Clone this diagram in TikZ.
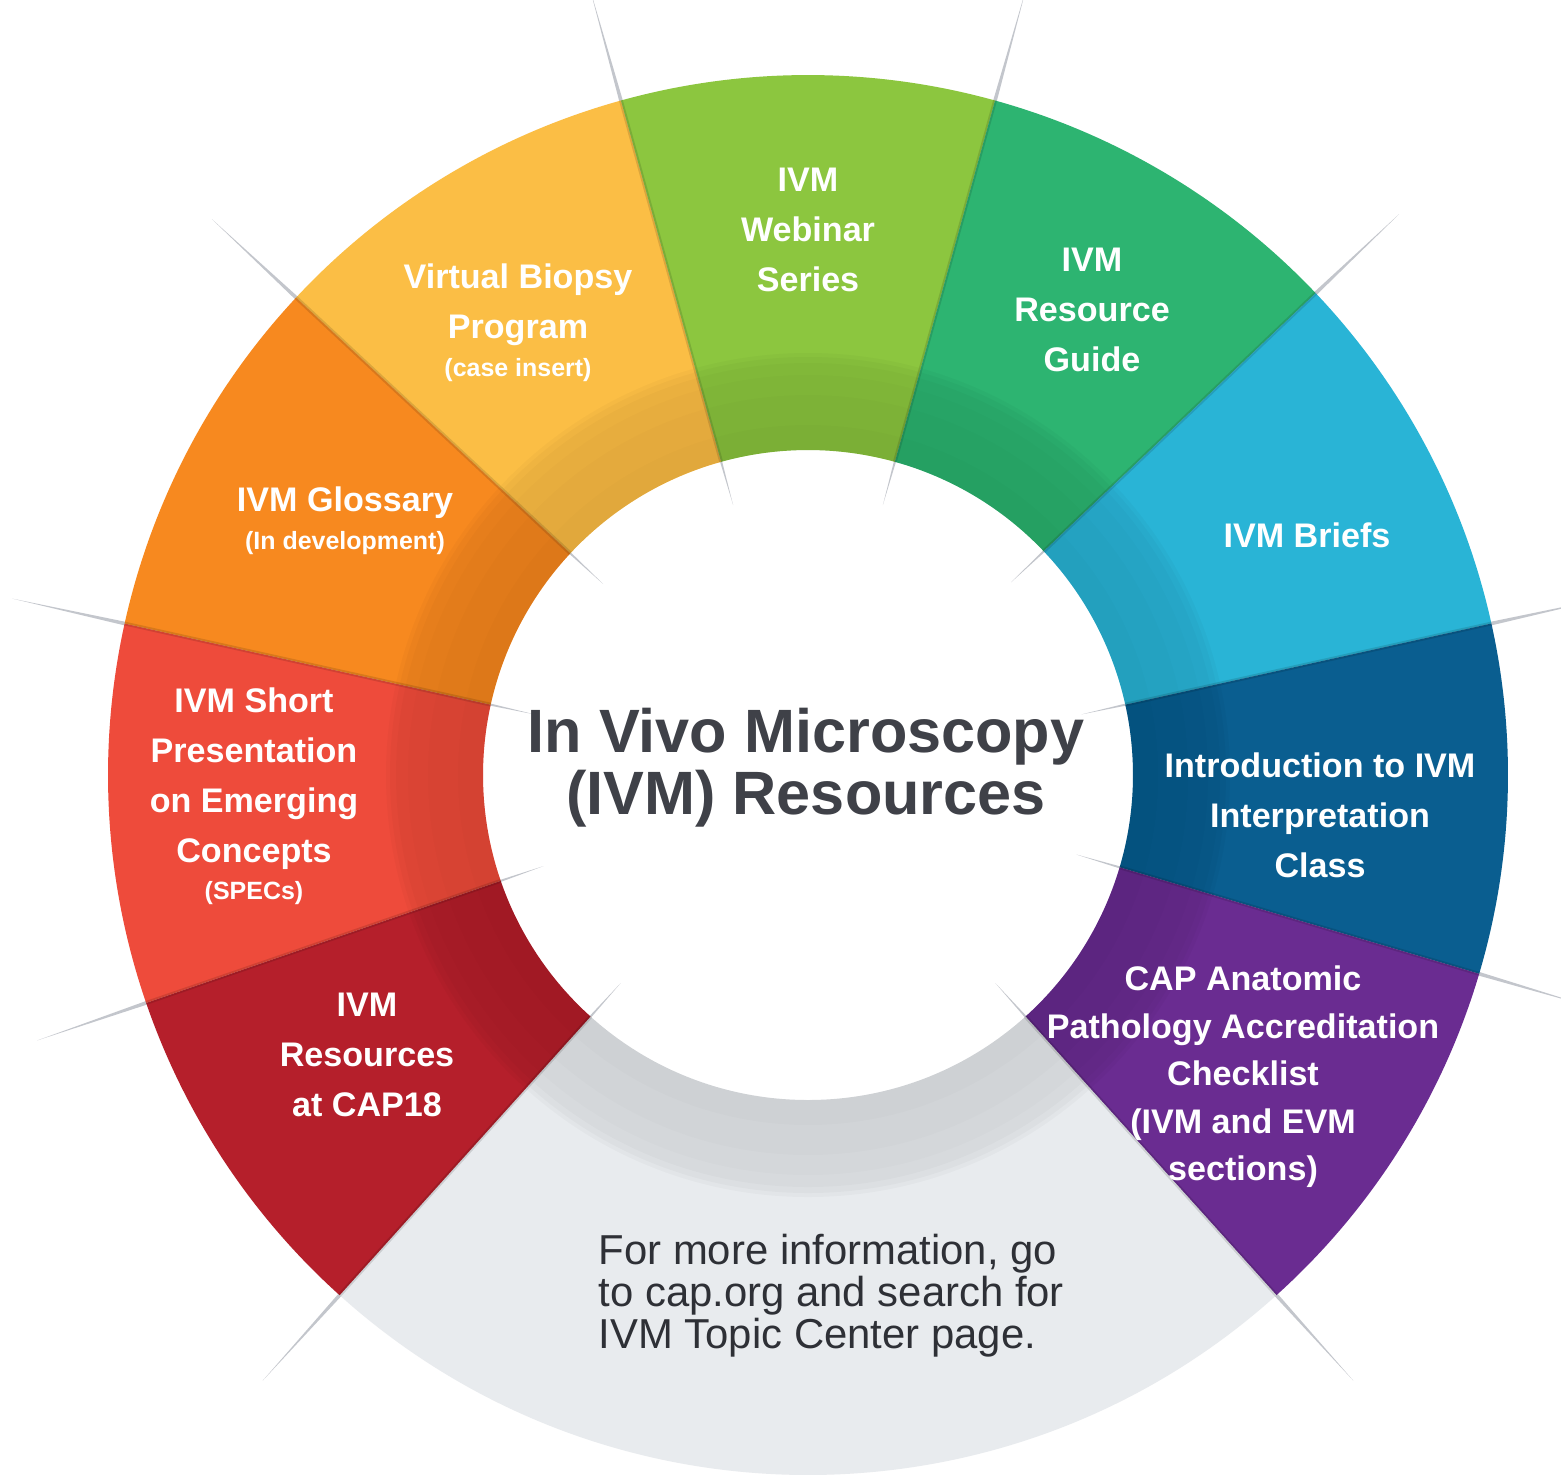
\documentclass[tikz,border=0pt]{standalone}
\usepackage{fontspec}
\setmainfont{Liberation Sans}
\definecolor{cYellow}{HTML}{FBBE45}
\definecolor{cGreen}{HTML}{8CC63F}
\definecolor{cDkGreen}{HTML}{2DB471}
\definecolor{cCyan}{HTML}{29B4D6}
\definecolor{cNavy}{HTML}{0A5E90}
\definecolor{cPurple}{HTML}{6A2C91}
\definecolor{cGrey}{HTML}{E8EBEE}
\definecolor{cRed}{HTML}{B51F2B}
\definecolor{cRedOr}{HTML}{EE4B3B}
\definecolor{cOrange}{HTML}{F7891F}
\definecolor{cRay}{HTML}{C3C6CC}
\definecolor{cTitle}{HTML}{3F4148}
\definecolor{cNote}{HTML}{2E3036}
\newcommand\ringseg[3]{%
  \fill[#3] (#1:325) -- (#1:700) arc[start angle=#1, end angle=#2, radius=700]
    -- (#2:325) arc[start angle=#2, end angle=#1, radius=325] -- cycle;}
\newcommand\ringray[1]{%
  \fill[cRay,rotate=#1] (280,0) -- (500,5) -- (815,0) -- (500,-5) -- cycle;}
\newcommand\ringedge[1]{%
  \draw[black,opacity=.12,line width=1.1pt] (#1:325) -- (#1:700);}
\newcommand\ringband[2]{%
  \fill[black,opacity=#2,even odd rule] (0,0) circle[radius=#1] (0,0) circle[radius=325];}
\begin{document}
\begin{tikzpicture}[x=0.01cm,y=0.01cm,
  lbl/.style={text=white,font=\fontsize{9.7}{14.2}\selectfont\bfseries,align=center,inner sep=0pt},
  lblcap/.style={text=white,font=\fontsize{9.7}{13.5}\selectfont\bfseries,align=center,inner sep=0pt},
  smalllbl/.style={text=white,font=\fontsize{7.1}{9}\selectfont\bfseries,align=center,inner sep=0pt},
  titlelbl/.style={text=cTitle,font=\fontsize{17.4}{17.6}\selectfont\bfseries,align=center,inner sep=0pt},
  notelbl/.style={text=cNote,font=\fontsize{11.9}{11.95}\selectfont,align=left,inner sep=0pt}]
\useasboundingbox (0,0) rectangle (1561,-1475);
\clip (0,0) rectangle (1561,-1475);
\fill[white] (0,0) rectangle (1561,-1475);
\begin{scope}[shift={(808,-775)}]
  % rays
  \foreach \a in {105.5,74.5,43.5,12.5,-16.5,-48,-132,-161,167.5,137} {\ringray{\a}}
  % segments
  \ringseg{105.5}{137}{cYellow}
  \ringseg{74.5}{105.5}{cGreen}
  \ringseg{43.5}{74.5}{cDkGreen}
  \ringseg{12.5}{43.5}{cCyan}
  \ringseg{-16.5}{12.5}{cNavy}
  \ringseg{-48}{-16.5}{cPurple}
  \ringseg{-132}{-48}{cGrey}
  \ringseg{-161}{-132}{cRed}
  \ringseg{167.5}{199}{cRedOr}
  \ringseg{137}{167.5}{cOrange}
  % inner shadow band (soft)
  \ringband{422}{.025}
  \ringband{418}{.025}
  \ringband{412}{.02}
  \ringband{400}{.012}
  \ringband{380}{.01}
  \ringband{350}{.01}
  % boundary shading
  \foreach \a in {105.5,74.5,43.5,12.5,-16.5,-48,-132,-161,167.5,137} {\ringedge{\a}}
\end{scope}
% labels
\node[lbl] (webinar) at (808,-230) {IVM\\Webinar\\Series};
\node[lbl] (guide) at (1092,-310) {IVM\\Resource\\Guide};
\node[lbl] (briefs) at (1307,-535) {IVM Briefs};
\node[lbl] (intro) at (1320,-815) {Introduction to IVM\\Interpretation\\Class};
\node[lblcap] (cap) at (1243,-1077) {CAP Anatomic\\Pathology Accreditation\\Checklist\\(IVM and EVM\\sections)};
\node[lbl] (cap18) at (367,-1055) {IVM\\Resources\\at CAP18};
\node[lbl] (specs) at (254,-779) {IVM Short\\Presentation\\on Emerging\\Concepts};
\node[smalllbl] (specsub) at (254,-893) {(SPECs)};
\node[lbl] (gloss) at (345,-503) {IVM Glossary};
\node[smalllbl] (glosssub) at (345,-543) {(In development)};
\node[lbl] (vbp) at (518,-305) {Virtual Biopsy\\Program};
\node[smalllbl] (vbpsub) at (518,-370) {(case insert)};
\node[titlelbl] (title) at (806,-768) {In Vivo Microscopy\\(IVM) Resources};
\node[notelbl,anchor=west] (note) at (598,-1296) {For more information, go\\to cap.org and search for\\IVM Topic Center page.};
\end{tikzpicture}
\end{document}
